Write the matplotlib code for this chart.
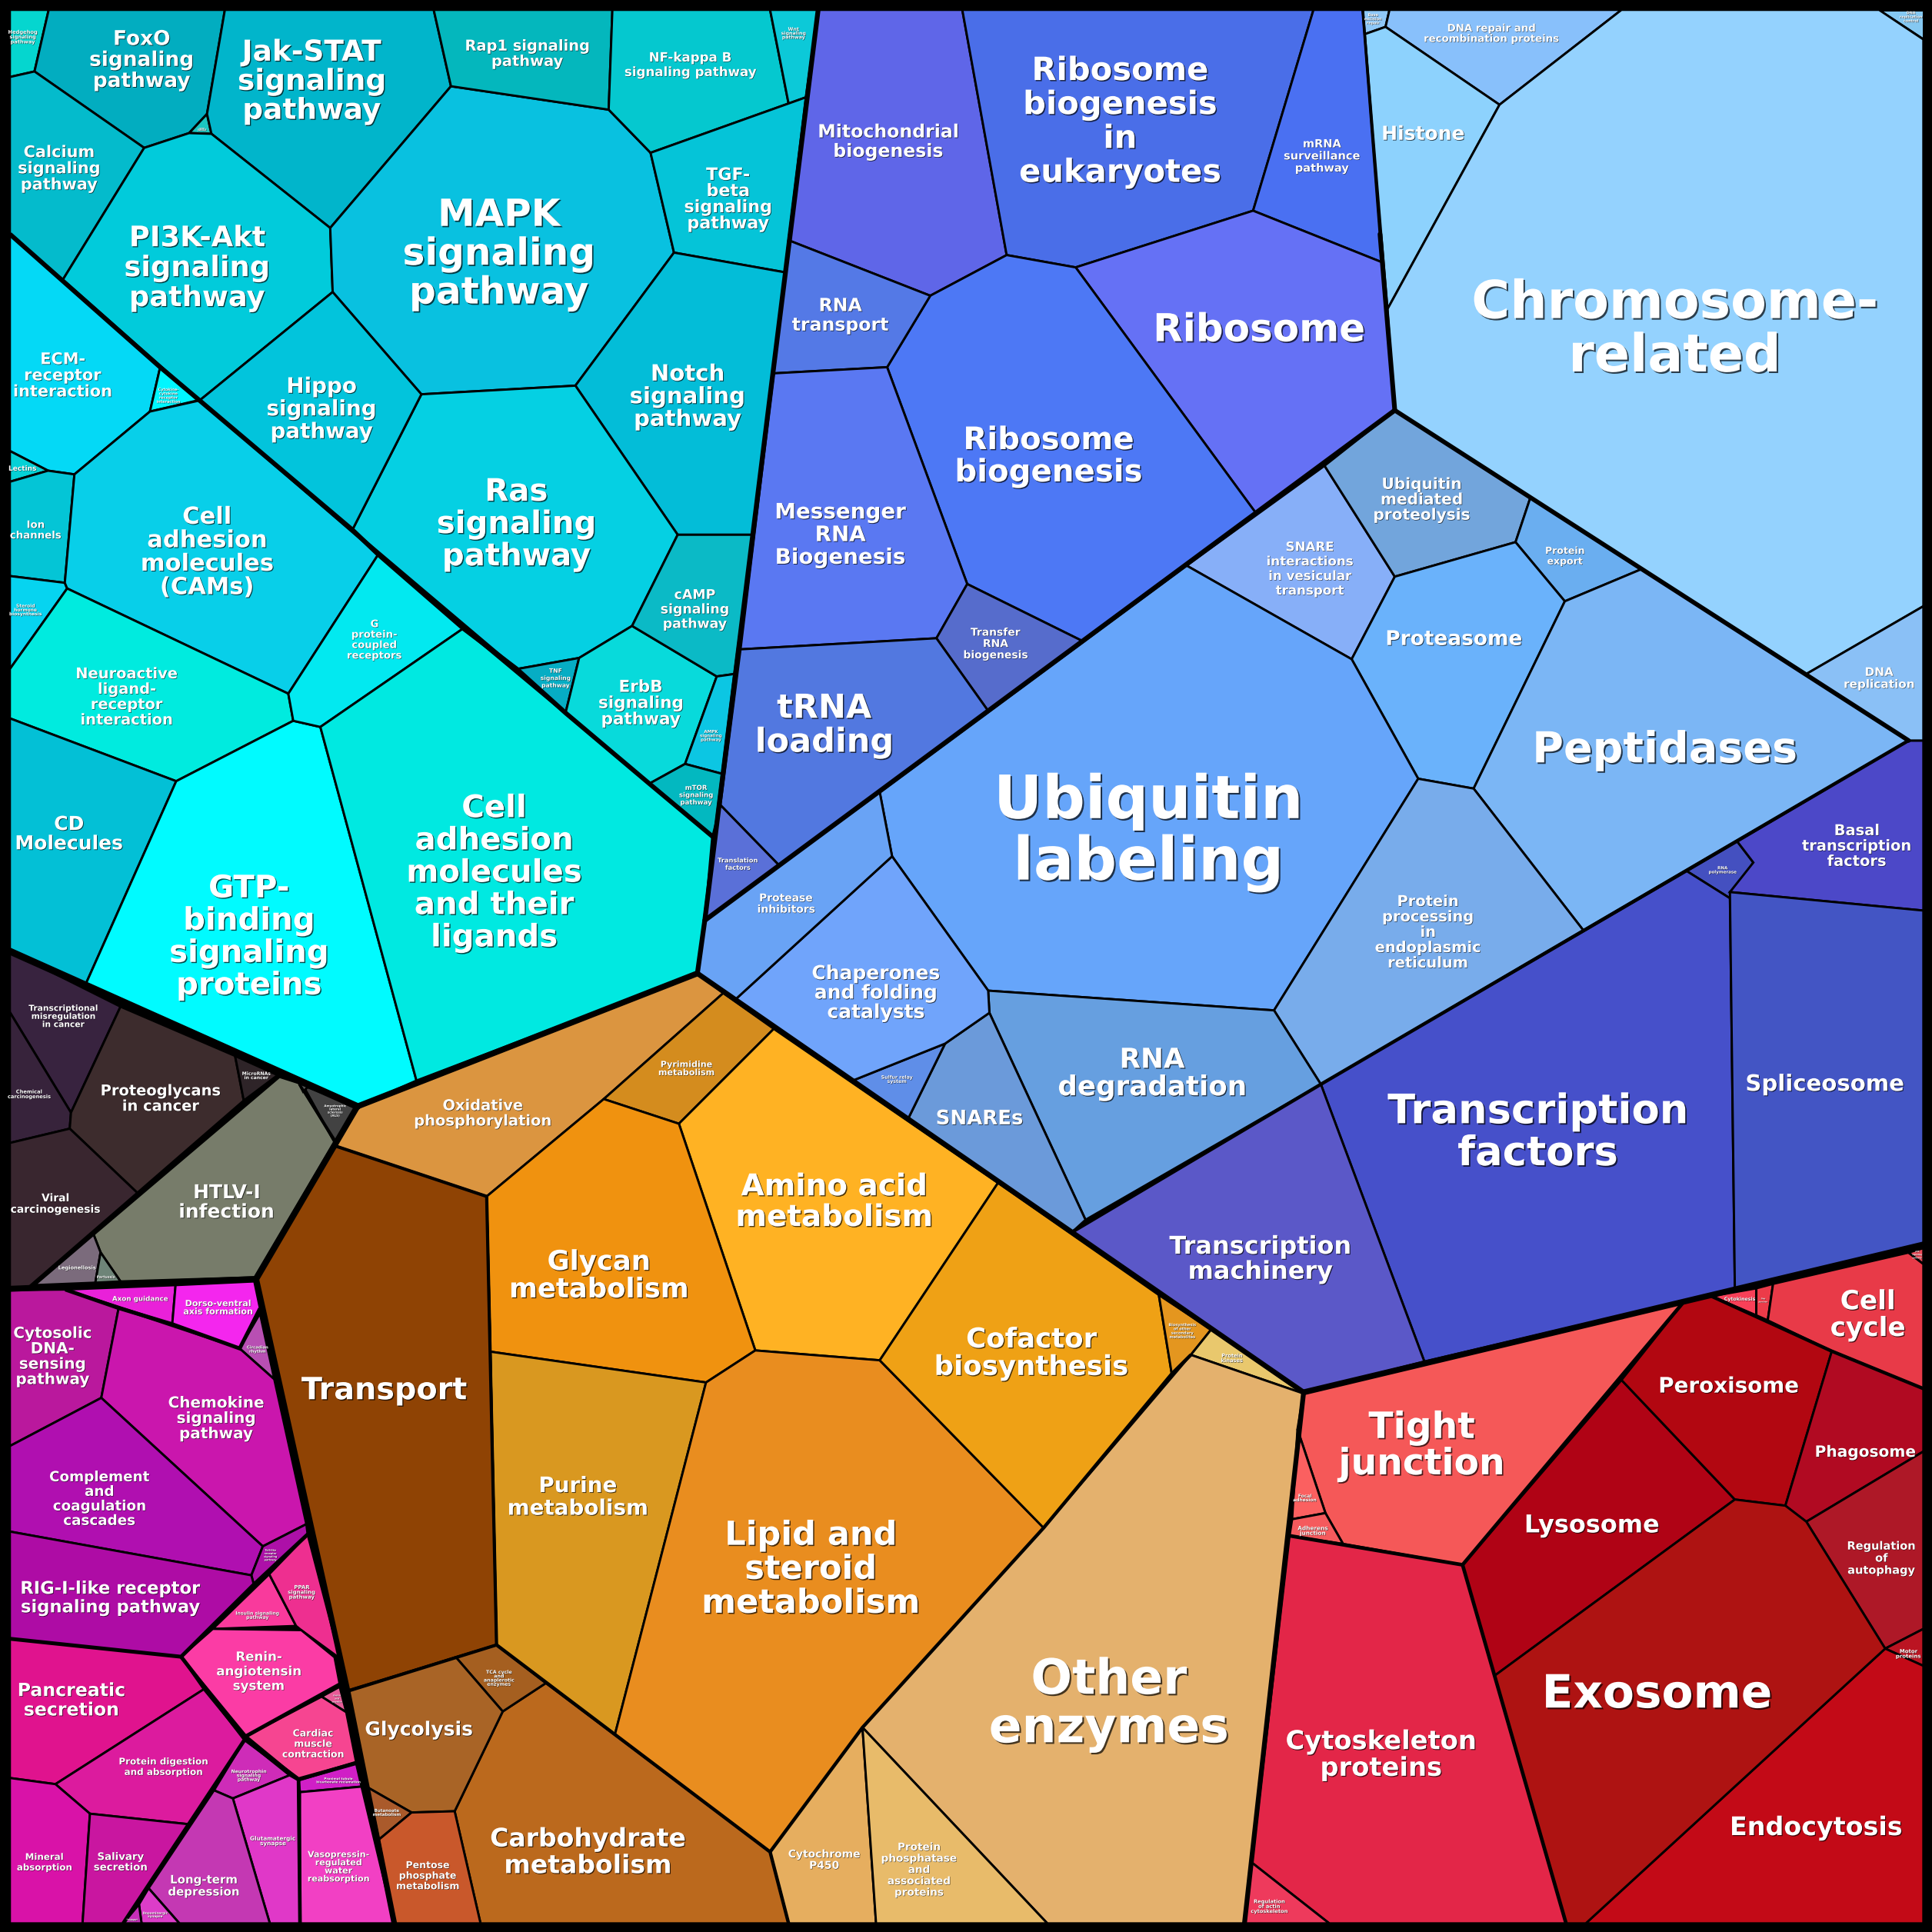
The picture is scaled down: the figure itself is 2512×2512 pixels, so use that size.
import matplotlib
matplotlib.use("Agg")
import matplotlib.pyplot as plt
import matplotlib.patheffects as pe

# coordinates on a 1568 x 1568 grid (y goes down)
GRID = 1568

# ---- signaling (cyan) ----
signal_names = ["Hedgehog\nsignaling\npathway", "FoxO\nsignaling\npathway", "VEGF\nsignaling\npathway",
                "Jak-STAT\nsignaling\npathway", "Calcium\nsignaling\npathway", "PI3K-Akt\nsignaling\npathway",
                "MAPK\nsignaling\npathway", "Rap1 signaling\npathway", "NF-kappa B\nsignaling pathway",
                "Wnt\nsignaling\npathway", "TGF-\nbeta\nsignaling\npathway", "Notch\nsignaling\npathway",
                "Ras\nsignaling\npathway", "Hippo\nsignaling\npathway", "TNF\nsignaling\npathway",
                "ErbB\nsignaling\npathway", "cAMP\nsignaling\npathway", "AMPK\nsignaling\npathway",
                "mTOR\nsignaling\npathway", "ECM-\nreceptor\ninteraction",
                "Cytokine-\ncytokine\nreceptor\ninteraction", "Lectins", "Ion\nchannels",
                "Steroid\nhormone\nbiosynthesis", "Cell\nadhesion\nmolecules\n(CAMs)",
                "Neuroactive\nligand-\nreceptor\ninteraction", "CD\nMolecules",
                "GTP-\nbinding\nsignaling\nproteins", "G\nprotein-\ncoupled\nreceptors",
                "Cell\nadhesion\nmolecules\nand their\nligands"]
signal_polys = [
    [(8, 8), (39.5, 8), (28, 58), (8, 62.5)],
    [(39.5, 8), (182.5, 8), (168, 92.5), (153.5, 108), (117, 120), (28, 58)],
    [(153.5, 108), (168, 92.5), (171.6, 108.6)],
    [(182.5, 8), (352, 8), (366, 70), (268, 185), (171.6, 108.6), (168, 92.5)],
    [(8, 62.5), (28, 58), (117, 120), (51, 227), (8, 190)],
    [(117, 120), (153.5, 108), (171.6, 108.6), (268, 185), (270, 237), (162, 325), (51, 227)],
    [(366, 70), (494, 89), (528, 124), (547, 205), (467, 313), (342, 320), (270, 237), (268, 185)],
    [(352, 8), (497, 8), (494, 89), (366, 70)],
    [(497, 8), (625, 8), (640, 84), (528, 124), (494, 89)],
    [(625, 8), (664, 8), (654, 79), (640, 84)],
    [(528, 124), (640, 84), (654, 79), (637, 221), (547, 205)],
    [(547, 205), (637, 221), (611, 434), (550, 434), (467, 313)],
    [(342, 320), (467, 313), (550, 434), (513, 508), (470, 534), (419.5, 543), (286, 430)],
    [(162, 325), (270, 237), (342, 320), (286, 430)],
    [(419.5, 543), (470, 534), (459, 578.6)],
    [(470, 534), (513, 508), (581.7, 549), (556, 620), (527, 636), (459, 578.6)],
    [(550, 434), (611, 434), (596, 547), (581.7, 549), (513, 508)],
    [(581.7, 549), (596, 547), (586, 628), (556, 620)],
    [(556, 620), (586, 628), (579.6, 680), (527, 636)],
    [(8, 190), (130, 298), (121.7, 334), (60.4, 385), (39, 382), (8, 366)],
    [(130, 298), (162, 324.6), (121.7, 334)],
    [(8, 366), (39, 382), (8, 391)],
    [(8, 391), (39, 382), (60.4, 385), (52.6, 473), (8, 467.5)],
    [(8, 467.5), (52.6, 473), (54.5, 477.6), (8, 543)],
    [(121.7, 334), (162, 325), (307, 450), (234, 563), (54.5, 477.6), (52.6, 473), (60.4, 385)],
    [(8, 543), (54.5, 477.6), (234, 563), (238, 585), (143, 634), (8, 583)],
    [(8, 583), (143, 634), (69, 800), (8, 772)],
    [(143, 634), (238, 585), (260, 590), (338, 877), (290, 898), (69, 800)],
    [(307, 450), (376, 510), (260, 590), (238, 585), (234, 563)],
    [(376, 510), (579.6, 680), (566, 790), (338, 877), (260, 590)],
]
signal_colors = ["#05d6cf", "#02adc0", "#1cc5c0", "#01b5cb", "#04bbcc", "#01cbdb", "#09c1e0", "#04b7bd",
                 "#05c8cf", "#0cc9d8", "#05c4d8", "#03bdd8", "#05d0e3", "#02c4dc", "#06adc4", "#08dadb",
                 "#0bbac6", "#0cc6e3", "#03b8c0", "#04d9f6", "#00f6ff", "#05d1d6", "#04c5d6", "#06d4f0",
                 "#08cfe9", "#00ebdf", "#03c0d6", "#00fbff", "#02e9f0", "#00e9e1"]
signal_label_xy = [(18.3, 29.8), (115, 48), (164, 105), (253, 65), (48, 136), (160, 216), (405, 204), (428, 43),
                   (560, 52), (644, 27), (591, 161), (558, 321), (419, 424), (261, 331), (451, 550), (520, 570),
                   (564, 494), (577, 597), (565, 645), (51, 304), (136.7, 320.9), (18.3, 380), (29, 430),
                   (20.8, 495), (168, 447), (103, 565), (56, 676), (202, 759), (304, 519), (401, 707)]
signal_sizes = [4.8, 19, 1.6, 27, 15, 26.5, 35, 14, 12, 4.5, 16, 21, 29, 20, 5.5, 15.5, 12.5, 4, 6.2, 15,
                3.6, 6.5, 9.6, 4.3, 22, 14, 18, 29, 9.5, 29]

# ---- cancer / infection (dark) ----
cancer_names = ["Transcriptional\nmisregulation\nin cancer", "Chemical\ncarcinogenesis", "Proteoglycans\nin cancer",
                "MicroRNAs\nin cancer", "Viral\ncarcinogenesis", "HTLV-I\ninfection", "Legionellosis",
                "Pertussis", "Amyotrophic\nlateral\nsclerosis\n(ALS)", ""]
cancer_polys = [
    [(8, 772), (97.8, 817), (57.6, 903), (8, 821.5)],
    [(8, 821.5), (57.6, 903), (56.6, 916), (8, 927.6)],
    [(97.8, 817), (190.8, 857), (198, 894), (112, 968.6), (56.6, 916), (57.6, 903)],
    [(190.8, 857), (225.8, 872.8), (198, 894)],
    [(8, 927.6), (56.6, 916), (112, 968.6), (25, 1043.7), (8, 1046)],
    [(226.8, 874), (242.5, 879), (271.5, 926.5), (206.6, 1036.7), (97.8, 1040), (81.6, 1016.4), (76, 1002)],
    [(76, 1002), (81.6, 1016.4), (77.4, 1041), (28, 1043)],
    [(81.6, 1016.4), (97.8, 1040), (77.4, 1041)],
    [(246, 881), (290, 898), (272, 928)],
    [(242.5, 879), (250, 882), (246, 886)],
]
cancer_colors = ["#38233f", "#37233b", "#3d2c2d", "#2e2428", "#39262f", "#777c6a", "#7b6b7c", "#6e8478",
                 "#424242", "#555555"]
cancer_label_xy = [(51.4, 824.6), (23.5, 887.8), (130.5, 891), (208, 873), (45, 976.5), (184, 975), (62.4, 1028.7),
                   (86, 1036.2), (272, 901.5), (246, 882)]
cancer_sizes = [7.7, 4.8, 14, 4.4, 10, 18, 4.8, 3.3, 2.9, 1]

# ---- immune / endocrine / nervous (magenta) ----
organism_names = ["Cytosolic\nDNA-\nsensing\npathway", "Axon guidance", "Dorso-ventral\naxis formation",
                  "Circadian\nrhythm", "Chemokine\nsignaling\npathway", "Complement\nand\ncoagulation\ncascades",
                  "Toll-like\nreceptor\nsignaling\npathway", "RIG-I-like receptor\nsignaling pathway",
                  "Insulin signaling\npathway", "PPAR\nsignaling\npathway", "Renin-\nangiotensin\nsystem",
                  "Gastric\nacid\nsecretion", "Cardiac\nmuscle\ncontraction", "Pancreatic\nsecretion",
                  "Protein digestion\nand absorption", "Mineral\nabsorption", "Salivary\nsecretion",
                  "Neurotrophin\nsignaling\npathway", "Glutamatergic\nsynapse", "Long-term\ndepression",
                  "Dopaminergic\nsynapse", "Serotonergic\nsynapse", "Proximal tubule\nbicarbonate reclamation",
                  "Vasopressin-\nregulated\nwater\nreabsorption"]
organism_polys = [
    [(8, 1047), (53, 1046.6), (96.3, 1061.6), (82.2, 1134.5), (8, 1173.6)],
    [(53, 1046.6), (142.5, 1043), (139.8, 1074.7)],
    [(142.5, 1043), (206.4, 1040), (211, 1062), (194.5, 1094.4), (139.8, 1074.7)],
    [(211, 1066), (222.6, 1119.4), (194.5, 1094.4)],
    [(96.3, 1061.6), (194.5, 1094.4), (222.6, 1119.4), (248.6, 1237), (213.3, 1255), (82.2, 1134.5)],
    [(8, 1173.6), (82.2, 1134.5), (213.3, 1255), (204, 1278.5), (8, 1243)],
    [(213.3, 1255), (248.6, 1237), (249.7, 1245.4), (206, 1286), (204, 1278.5)],
    [(8, 1243), (204, 1278.5), (206, 1286), (147, 1344.6), (8, 1330)],
    [(218.5, 1277.6), (240.3, 1319.6), (172.7, 1322)],
    [(249.7, 1245.4), (218.5, 1277.6), (240.3, 1319.6), (244.5, 1323), (276, 1346)],
    [(147, 1344.6), (172.7, 1322), (244.5, 1323), (271.5, 1345), (275.7, 1367), (199.8, 1409)],
    [(261, 1377), (275.7, 1369), (281, 1389.6)],
    [(199.8, 1409), (261, 1377), (281, 1389.6), (289, 1430), (242.3, 1444)],
    [(8, 1330), (147, 1344.6), (165.4, 1371), (45, 1448), (8, 1443)],
    [(45, 1448), (165.4, 1371), (198.7, 1411.7), (153, 1480.5), (73, 1472)],
    [(8, 1443), (45, 1448), (73, 1472), (67, 1561), (8, 1561)],
    [(73, 1472), (153, 1480.5), (100, 1561), (67, 1561)],
    [(198.7, 1411.7), (235, 1440.8), (189, 1459.6), (173.7, 1453)],
    [(235, 1440.8), (242.3, 1445), (243.5, 1561), (219, 1561), (189, 1459.6)],
    [(173.7, 1453), (189, 1459.6), (219, 1561), (145.6, 1561), (120.6, 1532.5)],
    [(120.6, 1532.5), (145.6, 1561), (114.9, 1561), (112.8, 1545.6)],
    [(112.8, 1545.6), (114.9, 1561), (100, 1561)],
    [(242.3, 1445), (289, 1431), (293.4, 1450), (243.5, 1454.5)],
    [(243.5, 1454.5), (293.4, 1450), (320, 1561), (243.5, 1561)],
]
organism_colors = ["#ba189d", "#e921d9", "#f426ee", "#b84fb3", "#ca16ad", "#b00fb0", "#ad10a8", "#ae0ca5",
                   "#f93a9c", "#ee2f90", "#fb3ca5", "#e75c98", "#f64591", "#e0138e", "#dc1b9e", "#d912a8",
                   "#c916a0", "#ce2cb8", "#e038c8", "#c438b3", "#dc3dc8", "#c52fb8", "#d01fc6", "#f240c4"]
organism_label_xy = [(42.7, 1100.3), (113.8, 1053.9), (177, 1061), (209, 1095), (175.4, 1150.6), (80.7, 1216),
                     (219.5, 1262), (89.5, 1296), (209, 1311), (245, 1292), (210, 1355.9), (273.6, 1378.4),
                     (254, 1415), (58, 1379), (132.5, 1433.6), (36, 1511), (98, 1511), (202, 1441),
                     (221.6, 1494), (165.4, 1530), (126, 1554), (107.5, 1558), (274.7, 1445), (274.7, 1514.8)]
organism_sizes = [14.4, 6.3, 8, 3.8, 14.4, 13.2, 2.4, 16.3, 4.4, 5, 12, 1.8, 9, 17, 8.6, 8.5, 9.6, 4.4, 5.3,
                  10.8, 3, 1.5, 3, 8]

# ---- metabolism and transport (orange) ----
metabolism_names = ["Oxidative\nphosphorylation", "Pyrimidine\nmetabolism", "Amino acid\nmetabolism",
                    "Glycan\nmetabolism", "Purine\nmetabolism", "Transport", "Lipid and\nsteroid\nmetabolism",
                    "Cofactor\nbiosynthesis", "Biosynthesis\nof other\nsecondary\nmetabolites",
                    "Protein\nkinases", "Other\nenzymes", "Cytochrome\nP450",
                    "Protein\nphosphatase\nand\nassociated\nproteins", "Carbohydrate\nmetabolism",
                    "TCA cycle\nand\nanaplerotic\nenzymes", "Glycolysis", "Butanoate\nmetabolism",
                    "Pentose\nphosphate\nmetabolism"]
metabolism_polys = [
    [(290, 898), (566, 790), (587, 806), (490, 892), (395, 971), (272, 930)],
    [(490, 892), (587, 806), (628, 835), (551, 912)],
    [(628, 835), (810, 960), (714, 1104), (613, 1096), (551, 912)],
    [(490, 892), (551, 912), (613, 1096), (573, 1122), (398, 1097), (395, 971)],
    [(398, 1097), (573, 1122), (499, 1408), (403, 1335)],
    [(272, 930), (395, 971), (398, 1097), (403, 1335), (282, 1372), (208, 1038)],
    [(573, 1122), (613, 1096), (714, 1104), (847, 1240), (625, 1503), (499, 1408)],
    [(810, 960), (940.5, 1051), (951, 1115), (847, 1240), (714, 1104)],
    [(940.5, 1051), (983, 1079), (966.5, 1099.6), (951, 1115)],
    [(983, 1079), (1058, 1131), (966.5, 1099.6)],
    [(966.5, 1099.6), (1058, 1131), (1010, 1561), (850, 1561), (700, 1402), (847, 1240)],
    [(625, 1503), (700, 1402), (711, 1561), (640, 1561)],
    [(700, 1402), (850, 1561), (711, 1561)],
    [(443, 1366), (499, 1408), (625, 1503), (640, 1561), (390, 1561), (369, 1470), (408, 1389)],
    [(370, 1345), (403, 1335), (443, 1366), (408, 1389)],
    [(282, 1372.6), (370, 1345), (408, 1389), (369, 1470), (334, 1471), (298.5, 1450.7)],
    [(298.5, 1450.7), (334, 1471), (307.5, 1493)],
    [(334, 1471), (369, 1470), (390, 1561), (320, 1561), (307.5, 1493)],
]
metabolism_colors = ["#db9540", "#d48c1e", "#ffb223", "#f0920f", "#d99820", "#8f4304", "#e98d1f", "#efa115",
                     "#e4961f", "#e9c86d", "#e4b16d", "#e6ae5f", "#e8bb6a", "#bb691d", "#a55f20", "#a96426",
                     "#aa5a2b", "#c9582b"]
metabolism_label_xy = [(392, 903), (557, 867), (677, 974), (486, 1034), (469, 1214), (312, 1127), (658, 1272),
                       (837, 1097), (959.6, 1080), (999.8, 1102), (900, 1381), (669, 1509), (746, 1517),
                       (477, 1502), (405, 1362), (340, 1403), (313.8, 1471), (347, 1522)]
metabolism_sizes = [14, 8, 28, 25.5, 20, 28.6, 31, 25.6, 3.6, 4.8, 45.5, 10, 9.8, 23.8, 4.5, 18, 4, 9]

# ---- translation (violet blue) ----
translation_names = ["Mitochondrial\nbiogenesis", "Ribosome\nbiogenesis\nin\neukaryotes", "mRNA\nsurveillance\npathway",
                     "Ribosome", "Ribosome\nbiogenesis", "RNA\ntransport", "Messenger\nRNA\nBiogenesis",
                     "Transfer\nRNA\nbiogenesis", "tRNA\nloading", "Translation\nfactors"]
translation_polys = [
    [(664, 8), (781, 8), (817, 207), (755, 240), (640, 195)],
    [(781, 8), (1066, 8), (1017, 171), (873, 217), (817, 207)],
    [(1066, 8), (1106, 8), (1122, 213), (1017, 171)],
    [(873, 217), (1017, 171), (1122, 213), (1132, 333), (1019, 416)],
    [(755, 240), (817, 207), (873, 217), (1019, 416), (878, 520), (785, 474), (720, 298)],
    [(640, 195), (755, 240), (720, 298), (628, 303)],
    [(628, 303), (720, 298), (785, 474), (760, 518), (601, 527)],
    [(785, 474), (878, 520), (802, 577), (760, 518)],
    [(601, 527), (760, 518), (802, 577), (632, 702), (584.7, 653.4)],
    [(584.7, 653.4), (632, 702), (572, 747), (578, 680)],
]
translation_colors = ["#5f66e8", "#4a6ee8", "#4a70f2", "#6571f5", "#4d78f5", "#5479e6", "#5a78f2", "#566ccc",
                      "#5278e0", "#5a70d8"]
translation_label_xy = [(721, 114), (909, 97), (1073, 126), (1022, 266), (851, 369), (682, 255), (682, 433),
                        (808, 522), (669, 587), (599, 701)]
translation_sizes = [17, 30, 10.5, 36, 29, 17, 20, 10, 31, 6]

# ---- folding and degradation (light blue) ----
folding_names = ["SNARE\ninteractions\nin vesicular\ntransport", "Ubiquitin\nmediated\nproteolysis", "Protein\nexport",
                 "Proteasome", "Peptidases", "Ubiquitin\nlabeling", "Protein\nprocessing\nin\nendoplasmic\nreticulum",
                 "RNA\ndegradation", "SNAREs", "Sulfur relay\nsystem", "Chaperones\nand folding\ncatalysts",
                 "Protease\ninhibitors"]
folding_polys = [
    [(1075, 378), (1132, 468), (1097, 535), (963, 459)],
    [(1075, 378), (1132, 333), (1242, 404), (1230, 440), (1132, 468)],
    [(1242, 404), (1332, 462), (1270, 488), (1230, 440)],
    [(1132, 468), (1230, 440), (1270, 488), (1196, 640), (1151, 632), (1097, 535)],
    [(1270, 488), (1332, 462), (1549, 601), (1285, 755), (1196, 640)],
    [(963, 459), (1097, 535), (1151, 632), (1034, 820), (802, 804), (724, 695), (714, 643)],
    [(1151, 632), (1196, 640), (1285, 755), (1072, 880), (1034, 820)],
    [(802, 804), (1034, 820), (1072, 880), (881, 990), (803, 822)],
    [(767, 847), (803, 822), (881, 990), (870, 1000), (737, 908)],
    [(692, 877), (767, 847), (737, 908)],
    [(724, 695), (802, 804), (803, 822), (767, 847), (692, 877), (597, 811)],
    [(714, 643), (724, 695), (597, 811), (566, 790), (572, 747)],
]
folding_colors = ["#87aff8", "#72a5dc", "#6aaef0", "#6ab2fb", "#7bb6f5", "#66a5fa", "#78aceb", "#669fe0",
                  "#6b9ada", "#5f8ee8", "#70a4fb", "#69a3f5"]
folding_label_xy = [(1063, 461), (1154, 405), (1270, 451), (1180, 518), (1351, 607), (932, 672), (1159, 756),
                    (935, 870), (795, 907), (728, 876), (711, 805), (638, 733)]
folding_sizes = [12, 14.5, 9, 19, 40, 56, 14, 25.7, 18.7, 4.5, 18, 10]

# ---- transcription (indigo) ----
transcription_names = ["RNA\npolymerase", "Basal\ntranscription\nfactors", "Transcription\nfactors", "Spliceosome",
                       "Transcription\nmachinery"]
transcription_polys = [
    [(1369, 707), (1410, 683), (1423, 700), (1404, 729)],
    [(1410, 683), (1549, 601), (1561, 601), (1561, 739), (1404, 724), (1423, 700)],
    [(1072, 880), (1369, 707), (1404, 729), (1408, 1046), (1156, 1105)],
    [(1404, 724), (1561, 739), (1561, 1010), (1408, 1046)],
    [(870, 1000), (1072, 880), (1156, 1105), (1058, 1130)],
]
transcription_colors = ["#4450c0", "#4c48c8", "#4650ca", "#4355c4", "#5b58c8"]
transcription_label_xy = [(1398, 706), (1507, 686), (1248, 917), (1481, 879), (1023, 1021)]
transcription_sizes = [4, 14, 38, 21, 23]

# ---- chromosome (pale blue) ----
chromosome_names = ["Base\nexcision\nrepair", "DNA repair and\nrecombination proteins", "DNA\nreplication\ncontrol",
                    "Histone", "Chromosome-\nrelated", "DNA\nreplication"]
chromosome_polys = [
    [(1106, 8), (1127.7, 8), (1124.5, 21.8), (1107.7, 27.7)],
    [(1127.7, 8), (1316, 8), (1217, 85), (1124.5, 21.8)],
    [(1525, 8), (1561, 8), (1561, 32)],
    [(1107.7, 27.7), (1124.5, 21.8), (1217, 85), (1126, 251)],
    [(1217, 85), (1316, 8), (1525, 8), (1561, 32), (1561, 492), (1466, 547), (1132, 333), (1126, 251)],
    [(1466, 547), (1561, 492), (1561, 601), (1549, 601)],
]
chromosome_colors = ["#8fc8f8", "#88c0fb", "#85c8f2", "#8dd2fd", "#94d2fe", "#8ac0f6"]
chromosome_label_xy = [(1114.4, 15.2), (1210.7, 27), (1551, 13.5), (1155, 108), (1359, 265), (1525, 550)]
chromosome_sizes = [3.6, 9.6, 3.5, 18, 49, 11]

# ---- cellular processes (red) ----
cellular_names = ["Tight\njunction", "Focal\nadhesion", "Adherens\njunction", "Cytoskeleton\nproteins",
                  "Regulation\nof actin\ncytoskeleton", "Lysosome", "Peroxisome", "Cytokinesis", "Gap\njunction",
                  "Cell\ncycle", "p53\nsignaling\npathway", "Phagosome", "Regulation\nof\nautophagy",
                  "Motor\nproteins", "Endocytosis", "Exosome"]
cellular_polys = [
    [(1058, 1130), (1367, 1056), (1187, 1270), (1090, 1253), (1075.7, 1228), (1053, 1160)],
    [(1053, 1160), (1075.7, 1228), (1048.7, 1233)],
    [(1048.7, 1233), (1075.7, 1228), (1090, 1253), (1046.6, 1246.4)],
    [(1046.6, 1246.4), (1187, 1270), (1271, 1561), (1078.8, 1561), (1016, 1511.7)],
    [(1016, 1511.7), (1078.8, 1561), (1010, 1561)],
    [(1187, 1270), (1316, 1120), (1408, 1217), (1213, 1360)],
    [(1367, 1056), (1389, 1052), (1486.7, 1096.6), (1449, 1222), (1408, 1217), (1316, 1120)],
    [(1389, 1052), (1425.4, 1045.6), (1425.4, 1067.5)],
    [(1425.4, 1045.6), (1439, 1042), (1434.7, 1071.6), (1425.4, 1067.5)],
    [(1439, 1042), (1549, 1016.6), (1561, 1025.8), (1561, 1127), (1486.7, 1096.6), (1434.7, 1071.6)],
    [(1549, 1016.6), (1561, 1013), (1561, 1025.8)],
    [(1486.7, 1096.6), (1561, 1127), (1561, 1178), (1466, 1235), (1449, 1222)],
    [(1466, 1235), (1561, 1178), (1561, 1322), (1530, 1338)],
    [(1530, 1338), (1561, 1322), (1561, 1352)],
    [(1530, 1338), (1561, 1352), (1561, 1561), (1287, 1561)],
    [(1213, 1360), (1408, 1217), (1449, 1222), (1466, 1235), (1530, 1338), (1287, 1561), (1271, 1561)],
]
cellular_colors = ["#f55858", "#fb6060", "#f55a5d", "#e32648", "#ee3a5c", "#b00315", "#b20711", "#f84058",
                   "#ec3b49", "#e83a48", "#e84a58", "#b10a22", "#ae1827", "#bb1422", "#c30a17", "#ae1312"]
cellular_label_xy = [(1154, 1172), (1059, 1215.7), (1065.6, 1242.2), (1121, 1423), (1030, 1547), (1292, 1237),
                     (1403, 1124), (1412, 1054.3), (1431, 1055), (1516, 1066), (1556, 1018), (1514, 1178),
                     (1527, 1264), (1549, 1342), (1474, 1482), (1345, 1373)]
cellular_sizes = [34, 4.3, 5.3, 24.3, 4.8, 23, 20, 4.5, 1.8, 24.7, 1.8, 14.5, 10.5, 5, 24, 43]

# boundaries between sub-groups and between main groups
subgroup_lines = [
    [(8, 190), (130, 298), (162, 325), (286, 430), (307, 450), (376, 510), (419.5, 543), (459, 578.6), (527, 636), (579.6, 680)],
    [(25, 1044), (112, 968.6), (198, 894), (226, 873)],
    [(243, 880), (272, 926)],
    [(53, 1046.6), (96.3, 1061.6), (139.8, 1074.7), (194.5, 1094.4), (211, 1062)],
    [(250, 1245), (206, 1286), (147, 1344.6), (8, 1330)],
    [(147, 1344.6), (198.7, 1411.7), (100, 1561)],
    [(199.8, 1409), (275.7, 1367)],
    [(198.7, 1411.7), (242.3, 1444), (289, 1431)],
    [(242.3, 1444), (243.5, 1561)],
    [(272, 930), (395, 971), (403, 1335), (282, 1372.6)],
    [(403, 1335), (625, 1503), (640, 1561)],
    [(966.5, 1099.6), (951, 1115), (847, 1240), (700, 1402), (625, 1503)],
    [(1549, 601), (1072, 880), (870, 1000)],
    [(1046.6, 1246.4), (1187, 1270), (1367, 1056)],
    [(1187, 1270), (1271, 1561)],
    [(1389, 1052), (1486.7, 1096.6), (1561, 1127)],
]
subgroup_widths = [4.3, 3.8, 2.6, 3.6, 3.6, 3.6, 3.6, 3.6, 3.4, 3.0, 3.2, 3.2, 3.2, 3.4, 3.4, 3.2]
group_lines = [
    [(664, 8), (572, 747), (566, 790)],
    [(8, 772), (290, 898)],
    [(290, 898), (566, 790)],
    [(566, 790), (1058, 1130)],
    [(1058, 1130), (1010, 1561)],
    [(290, 898), (208, 1038), (8, 1046)],
    [(208, 1038), (282, 1372), (320, 1561)],
    [(1058, 1130), (1561, 1010)],
    [(1106, 8), (1120, 190)],
    [(1120, 190), (1132, 333)],
    [(1132, 333), (572, 747)],
    [(1132, 333), (1549, 601)],
]
group_widths = [4.5, 6.5, 5.5, 4.8, 4.5, 5.6, 5.2, 5.5, 2.6, 4.4, 4.5, 4.2]

groups = [
    (signal_names, signal_polys, signal_colors, signal_label_xy, signal_sizes),
    (cancer_names, cancer_polys, cancer_colors, cancer_label_xy, cancer_sizes),
    (organism_names, organism_polys, organism_colors, organism_label_xy, organism_sizes),
    (metabolism_names, metabolism_polys, metabolism_colors, metabolism_label_xy, metabolism_sizes),
    (translation_names, translation_polys, translation_colors, translation_label_xy, translation_sizes),
    (folding_names, folding_polys, folding_colors, folding_label_xy, folding_sizes),
    (transcription_names, transcription_polys, transcription_colors, transcription_label_xy, transcription_sizes),
    (chromosome_names, chromosome_polys, chromosome_colors, chromosome_label_xy, chromosome_sizes),
    (cellular_names, cellular_polys, cellular_colors, cellular_label_xy, cellular_sizes),
]

fig = plt.figure(figsize=(25.12, 25.12), dpi=100, facecolor="black")
ax = fig.add_axes([0, 0, 1, 1], facecolor="black")
ax.set_xlim(0, GRID)
ax.set_ylim(GRID, 0)
ax.axis("off")

for names, polys, colors, spots, sizes in groups:
    for name, poly, color, spot, size in zip(names, polys, colors, spots, sizes):
        xs, ys = zip(*poly)
        ax.fill(xs, ys, facecolor=color, edgecolor="black", linewidth=2.1, joinstyle="miter", zorder=1)
        if not name:
            continue
        shift = max(0.4, min(1.5, size * 0.035))
        ax.text(spot[0], spot[1] + size * 0.06, name, color="white", fontsize=size, fontweight="bold",
                family="DejaVu Sans", ha="center", va="center", multialignment="center",
                linespacing=1.065, zorder=5,
                path_effects=[pe.SimplePatchShadow(offset=(shift, -shift), shadow_rgbFace="black", alpha=0.7),
                              pe.Normal()])

for line, width in zip(subgroup_lines, subgroup_widths):
    xs, ys = zip(*line)
    ax.plot(xs, ys, color="black", linewidth=width, solid_joinstyle="miter", solid_capstyle="butt", zorder=2)
for line, width in zip(group_lines, group_widths):
    xs, ys = zip(*line)
    ax.plot(xs, ys, color="black", linewidth=width, solid_joinstyle="miter", solid_capstyle="round", zorder=3)

fig.savefig("out.png", dpi=100, facecolor="black")
